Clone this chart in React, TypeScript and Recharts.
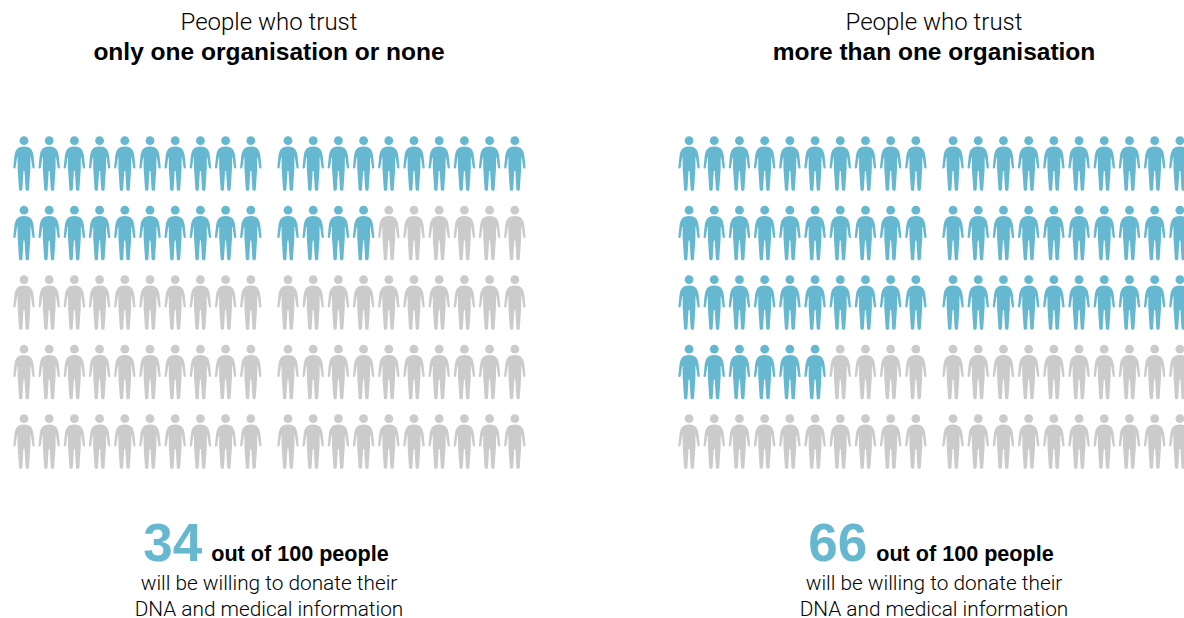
import { Scatter, ScatterChart, XAxis, YAxis } from "recharts";

const TOTAL_PEOPLE = 100;
const PER_ROW = 20;
const ROWS = [0, 1, 2, 3, 4];
const WILLING = [34, 66];
const PANEL_OFFSETS = [0, 26.39];
const TITLES = ["only one organisation or none", "more than one organisation"];
const TEXT_CENTERS = [269, 934];

const BLUE = "#65b8d0";
const GREY = "#cbcbcb";
const LIGHT_FONT = "Roboto, 'Liberation Sans', sans-serif";
const BOLD_FONT = "'Liberation Sans', Arial, sans-serif";

// Extra column width between the two blocks of ten.
const BLOCK_GAP = 0.476;

type Person = { x: number; row: number; filled: boolean };

function buildPeople(panel: number): Person[] {
  const people: Person[] = [];
  for (let i = 0; i < TOTAL_PEOPLE; i++) {
    const col = i % PER_ROW;
    people.push({
      x: PANEL_OFFSETS[panel] + col + (col >= 10 ? BLOCK_GAP : 0),
      row: ROWS[Math.floor(i / PER_ROW)],
      filled: i < WILLING[panel],
    });
  }
  return people;
}

const BODY =
  "M0,-16.6 C3.4,-16.6 6,-15.6 7.4,-13.6 C8.6,-11.8 9.2,-9.6 9.5,-7.2 L10.7,4.2 " +
  "C10.9,5.8 8.7,6.1 8.4,4.6 L6.9,-5.5 L6.4,-5.5 L6.4,5 L5,26.2 C4.8,28.3 1.8,28.3 1.6,26.2 L0.5,8 " +
  "L-0.5,8 L-1.6,26.2 C-1.8,28.3 -4.8,28.3 -5,26.2 L-6.4,5 L-6.4,-5.5 L-6.9,-5.5 L-8.4,4.6 " +
  "C-8.7,6.1 -10.9,5.8 -10.7,4.2 L-9.5,-7.2 C-9.2,-9.6 -8.6,-11.8 -7.4,-13.6 " +
  "C-6,-15.6 -3.4,-16.6 0,-16.6 Z";

function PersonShape(props: any) {
  const { cx, cy, payload } = props;
  const fill = payload.filled ? BLUE : GREY;
  return (
    <g transform={`translate(${cx},${cy})`} fill={fill}>
      <circle cx={0} cy={-22.3} r={4.4} />
      <path d={BODY} />
    </g>
  );
}

function PanelText({ panel }: { panel: number }) {
  const cx = TEXT_CENTERS[panel];
  return (
    <g textAnchor="middle" fill="#000">
      <text x={cx} y={30} fontFamily={LIGHT_FONT} fontWeight={300} fontSize={24}>
        People who trust
      </text>
      <text x={cx} y={60} fontFamily={BOLD_FONT} fontWeight={700} fontSize={24.5}>
        {TITLES[panel]}
      </text>
      <text x={cx - 3} y={560.5} fontFamily={BOLD_FONT} fontWeight={700} fontSize={21.6}>
        <tspan fill={BLUE} fontSize={53}>
          {WILLING[panel]}
        </tspan>
        <tspan dx={9}>{`out of ${TOTAL_PEOPLE} people`}</tspan>
      </text>
      <text x={cx} y={590} fontFamily={LIGHT_FONT} fontWeight={300} fontSize={20.8}>
        will be willing to donate their
      </text>
      <text x={cx} y={616} fontFamily={LIGHT_FONT} fontWeight={300} fontSize={20.8}>
        DNA and medical information
      </text>
    </g>
  );
}

export default function App() {
  return (
    <div
      style={{
        position: "absolute",
        left: 0,
        top: 0,
        width: 1184,
        height: 618,
        overflow: "hidden",
        background: "#fff",
      }}
    >
      <ScatterChart width={1184} height={618} margin={{ top: 0, right: 0, bottom: 0, left: 0 }}>
        <XAxis type="number" dataKey="x" domain={[-0.952, 46.03]} hide allowDataOverflow />
        <YAxis type="number" dataKey="row" domain={[-2.345, 6.547]} reversed hide allowDataOverflow />
        {WILLING.map((_, panel) => (
          <Scatter
            key={panel}
            data={buildPeople(panel)}
            shape={PersonShape}
            isAnimationActive={false}
          />
        ))}
        <PanelText panel={0} />
        <PanelText panel={1} />
      </ScatterChart>
    </div>
  );
}
